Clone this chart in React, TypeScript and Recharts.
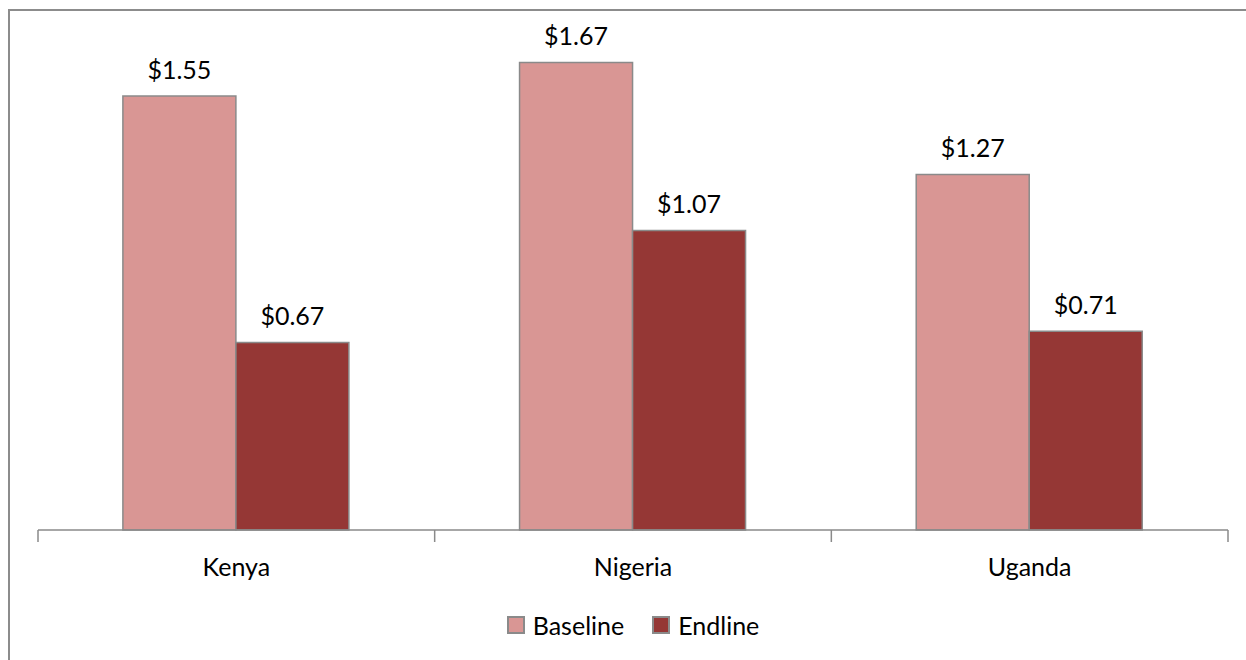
import React from 'react';
import { BarChart, Bar, XAxis, YAxis, LabelList, Legend } from 'recharts';

const countries = ['Kenya', 'Nigeria', 'Uganda'];
const baseline = [1.55, 1.67, 1.27];
const endline = [0.67, 1.07, 0.71];

const BASE_COLOR = '#d99694';
const END_COLOR = '#953735';
const STROKE = '#8a8a8a';
const FONT = 'Lato, "Open Sans", sans-serif';
const CHART_W = 1246;
const MARGIN = { top: 26, right: 18, left: 38, bottom: 20 };

const data = countries.map((name, i) => ({ name, baseline: baseline[i], endline: endline[i] }));

const money = (v: any) => `$${Number(v).toFixed(2)}`;

// category label plus Excel-style tick marks on the band edges
function CategoryTick(props: any) {
  const { x, y, payload, index, visibleTicksCount } = props;
  const half = payload && payload.offset > 0 ? payload.offset : (CHART_W - MARGIN.left - MARGIN.right) / countries.length / 2;
  const last = index === (visibleTicksCount ?? countries.length) - 1;
  return (
    <g>
      <line x1={x - half} y1={y} x2={x - half} y2={y + 12} stroke={STROKE} strokeWidth={1.5} />
      {last && <line x1={x + half} y1={y} x2={x + half} y2={y + 12} stroke={STROKE} strokeWidth={1.5} />}
      <text x={x} y={y + 46} textAnchor="middle" fontSize={25} fontFamily={FONT} fill="#000">
        {payload.value}
      </text>
    </g>
  );
}

function LegendBox() {
  const items = [
    { label: 'Baseline', color: BASE_COLOR },
    { label: 'Endline', color: END_COLOR },
  ];
  return (
    <div style={{ display: 'flex', justifyContent: 'center', alignItems: 'center', fontFamily: FONT, fontSize: 25, color: '#000', height: 30 }}>
      {items.map((it, i) => (
        <div key={it.label} style={{ display: 'flex', alignItems: 'center', marginLeft: i ? 28 : 0 }}>
          <span style={{ width: 14, height: 14, background: it.color, border: `2px solid ${STROKE}`, marginRight: 8, display: 'inline-block' }} />
          <span>{it.label}</span>
        </div>
      ))}
    </div>
  );
}

export default function App() {
  return (
    <div style={{ position: 'absolute', left: 0, top: 0, width: 1246, height: 660, overflow: 'hidden', background: '#fff' }}>
      <div style={{ position: 'absolute', left: 8, top: 9, width: 1400, height: 800, borderTop: '2px solid #8c8c8c', borderLeft: '2px solid #8c8c8c' }} />
      <BarChart
        width={CHART_W}
        height={660}
        data={data}
        margin={MARGIN}
        barCategoryGap="21.4%"
        barGap={0}
      >
        <XAxis
          dataKey="name"
          axisLine={{ stroke: STROKE, strokeWidth: 1.5 }}
          tickLine={false}
          tickSize={0}
          tickMargin={0}
          height={80}
          tick={<CategoryTick />}
          interval={0}
        />
        <YAxis hide domain={[0, 1.8]} />
        <Legend verticalAlign="bottom" content={() => <LegendBox />} />
        <Bar dataKey="baseline" name="Baseline" fill={BASE_COLOR} stroke={STROKE} strokeWidth={1.5} isAnimationActive={false}>
          <LabelList dataKey="baseline" position="top" offset={17} formatter={money} style={{ fontSize: 25, fill: '#000', fontFamily: FONT }} />
        </Bar>
        <Bar dataKey="endline" name="Endline" fill={END_COLOR} stroke={STROKE} strokeWidth={1.5} isAnimationActive={false}>
          <LabelList dataKey="endline" position="top" offset={17} formatter={money} style={{ fontSize: 25, fill: '#000', fontFamily: FONT }} />
        </Bar>
      </BarChart>
    </div>
  );
}
